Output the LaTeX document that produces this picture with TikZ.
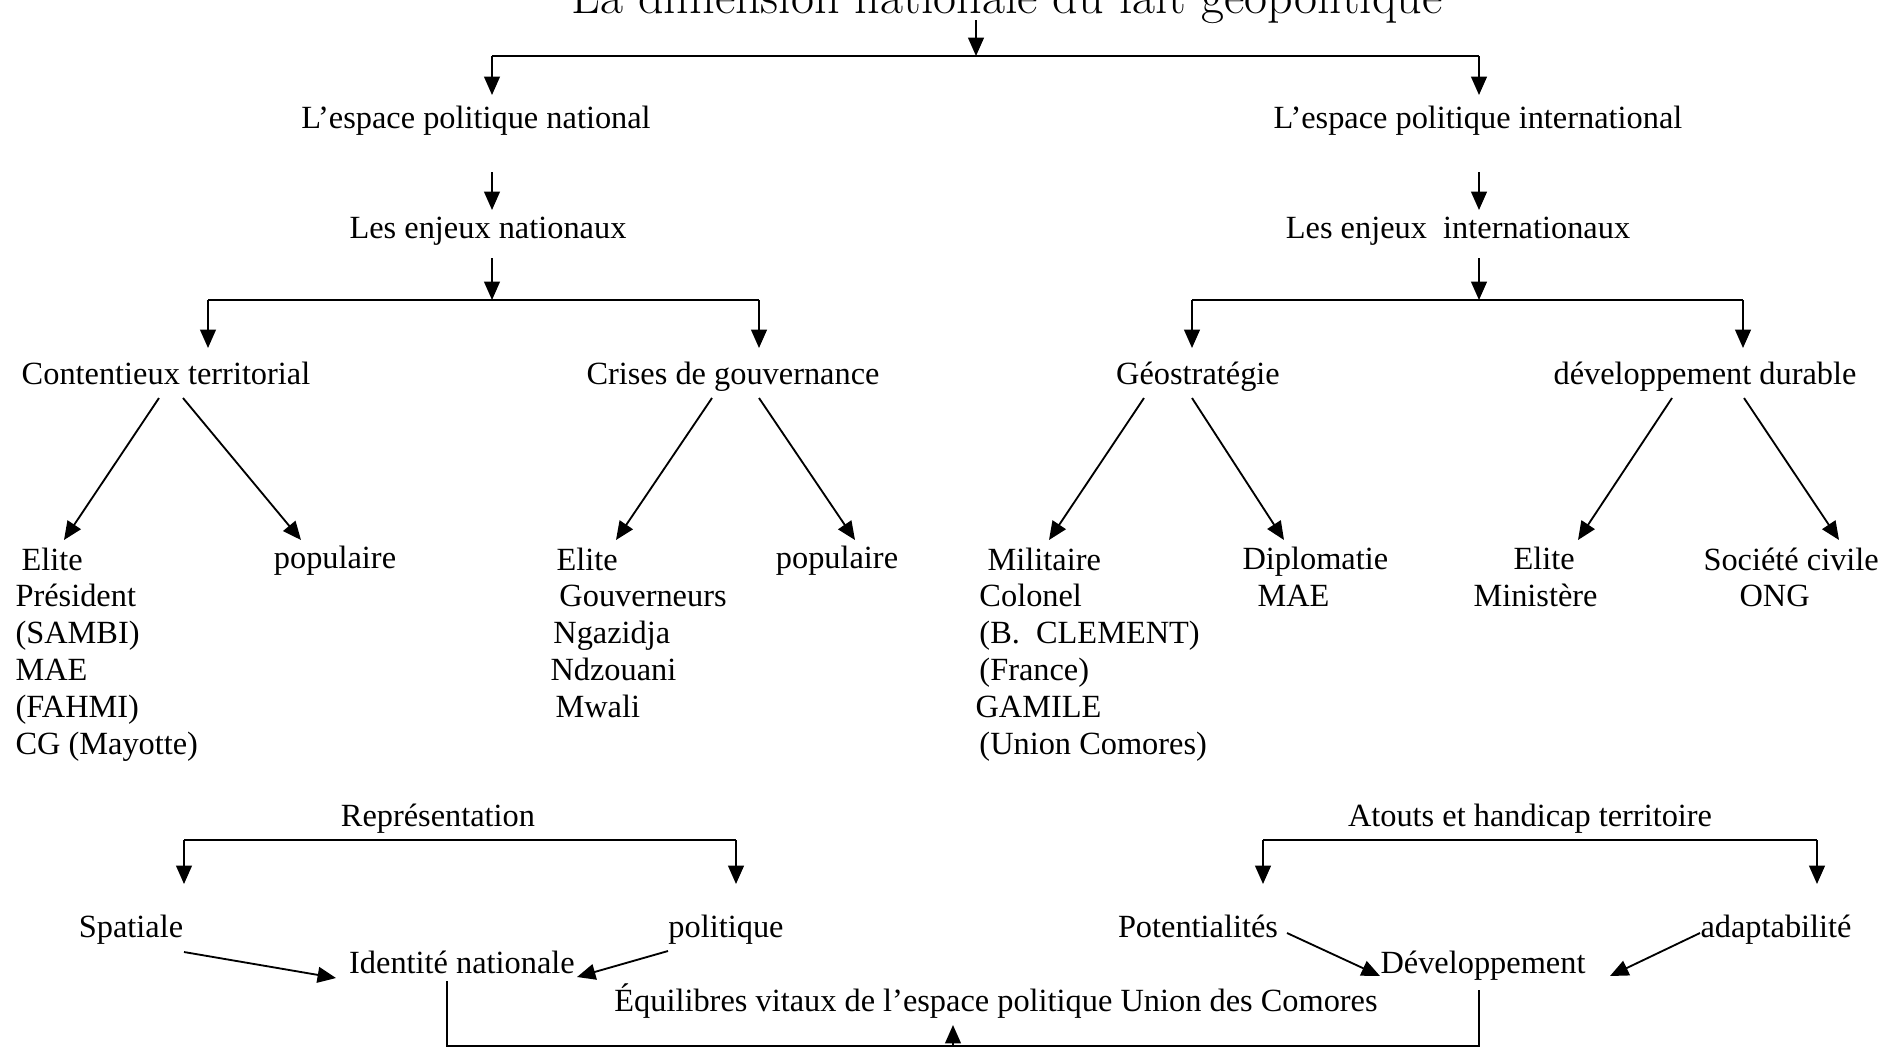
\documentclass[tikz,border=0pt]{standalone}
\usepackage{fontspec}
\newfontfamily\tnr{Liberation Serif}
\usetikzlibrary{arrows.meta}
\begin{document}
\begin{tikzpicture}[x=0.38pt,y=-0.38pt,
  txt/.style={font=\tnr\fontsize{12.3}{14}\selectfont, inner sep=0pt},
  one/.style={txt, text height=8.4pt, text depth=2.6pt},
  blk/.style={txt, align=left, anchor=north west},
  arr/.style={line width=0.7pt, -{Triangle[length=7pt,width=6pt]}},
  ln/.style={line width=0.6pt},
  thinln/.style={line width=0.45pt}]
\useasboundingbox (0,0) rectangle (1895,1048);
\clip (0,0) rectangle (1895,1048);
% title
\node[font=\fontsize{19}{22}\selectfont, inner sep=0pt, anchor=base] (title) at (1007,13) {La dimension nationale du fait géopolitique};
% level 1
\node[one] (espN) at (476,121) {L’espace politique national};
\node[one] (espI) at (1478,121) {L’espace politique international};
\node[one] (enjN) at (488,231) {Les enjeux nationaux};
\node[one] (enjI) at (1458,231) {Les enjeux~ internationaux};
% level 3
\node[one] (cont) at (166,377) {Contentieux territorial};
\node[one] (crise) at (733,377) {Crises de gouvernance};
\node[one] (geo) at (1198,377) {Géostratégie};
\node[one] (dev) at (1705,377) {développement durable};
% level 4
\node[blk] (elA) at (15,547) {\hspace*{2.3pt}Elite\\Président\\(SAMBI)\\MAE\\(FAHMI)\\CG (Mayotte)};
\node[one] (popA) at (335,561) {populaire};
\node[blk] (elB) at (550,547) {\hspace*{2.3pt}Elite\\\hspace*{3.4pt}Gouverneurs\\\hspace*{1.1pt}Ngazidja\\Ndzouani\\\hspace*{1.9pt}Mwali};
\node[one] (popB) at (837,561) {populaire};
\node[blk] (mil) at (975,547) {\hspace*{4.6pt}Militaire\\\hspace*{1.5pt}Colonel\\\hspace*{1.5pt}(B.~ CLEMENT)\\\hspace*{1.5pt}(France)\\GAMILE\\\hspace*{1.5pt}(Union Comores)};
\node[blk] (dip) at (1242,547) {Diplomatie\\\hspace*{5.7pt}MAE};
\node[blk] (elC) at (1473,547) {\hspace*{15.2pt}Elite\\Ministère};
\node[blk] (soc) at (1703,547) {Société civile\\\hspace*{13.7pt}ONG};
% bottom
\node[one] (repr) at (438,819) {Représentation};
\node[one] (atou) at (1530,819) {Atouts et handicap territoire};
\node[one] (spat) at (131,930) {Spatiale};
\node[one] (poli) at (726,930) {politique};
\node[one] (iden) at (462,966) {Identité nationale};
\node[one] (pote) at (1198,930) {Potentialités};
\node[one] (adap) at (1776,930) {adaptabilité};
\node[one] (devl) at (1483,966) {Développement};
\node[one] (equi) at (996,1004) {Équilibres vitaux de l’espace politique Union des Comores};
% coordinates
\coordinate (t0) at (976,20);
\coordinate (t1) at (976,56);
\coordinate (hL) at (492,56);
\coordinate (hR) at (1479,56);
\coordinate (eNt) at (492,95);
\coordinate (eIt) at (1479,95);
\coordinate (aN0) at (492,172);
\coordinate (aN1) at (492,210);
\coordinate (aI0) at (1479,172);
\coordinate (aI1) at (1479,210);
\coordinate (bN0) at (492,258);
\coordinate (bN1) at (492,300);
\coordinate (bI0) at (1479,258);
\coordinate (bI1) at (1479,300);
\coordinate (hN1) at (208,300);
\coordinate (hN2) at (759,300);
\coordinate (hI1) at (1192,300);
\coordinate (hI2) at (1743,300);
\coordinate (cN1) at (208,348);
\coordinate (cN2) at (759,348);
\coordinate (cI1) at (1192,348);
\coordinate (cI2) at (1743,348);
% top tree
\draw[arr] (t0) -- (t1);
\draw[ln] (hL) -- (hR);
\draw[arr] (hL) -- (eNt);
\draw[arr] (hR) -- (eIt);
\draw[arr] (aN0) -- (aN1);
\draw[arr] (aI0) -- (aI1);
\draw[arr] (bN0) -- (bN1);
\draw[arr] (bI0) -- (bI1);
\draw[ln] (hN1) -- (hN2);
\draw[ln] (hI1) -- (hI2);
\draw[arr] (hN1) -- (cN1);
\draw[arr] (hN2) -- (cN2);
\draw[arr] (hI1) -- (cI1);
\draw[arr] (hI2) -- (cI2);
% diagonals
\coordinate (d1a) at (159,398); \coordinate (d1b) at (64,540);
\coordinate (d2a) at (183,398); \coordinate (d2b) at (301,540);
\coordinate (d3a) at (712,398); \coordinate (d3b) at (616,540);
\coordinate (d4a) at (759,398); \coordinate (d4b) at (855,540);
\coordinate (d5a) at (1144,398); \coordinate (d5b) at (1049,540);
\coordinate (d6a) at (1192,398); \coordinate (d6b) at (1284,540);
\coordinate (d7a) at (1672,398); \coordinate (d7b) at (1578,540);
\coordinate (d8a) at (1744,398); \coordinate (d8b) at (1839,540);
\draw[arr] (d1a) -- (d1b);
\draw[arr] (d2a) -- (d2b);
\draw[arr] (d3a) -- (d3b);
\draw[arr] (d4a) -- (d4b);
\draw[arr] (d5a) -- (d5b);
\draw[arr] (d6a) -- (d6b);
\draw[arr] (d7a) -- (d7b);
\draw[arr] (d8a) -- (d8b);
% bottom trees
\coordinate (rL) at (184,840); \coordinate (rR) at (736,840);
\coordinate (rLt) at (184,884); \coordinate (rRt) at (736,884);
\coordinate (aL) at (1263,840); \coordinate (aR) at (1817,840);
\coordinate (aLt) at (1263,884); \coordinate (aRt) at (1817,884);
\draw[ln] (rL) -- (rR);
\draw[arr] (rL) -- (rLt);
\draw[arr] (rR) -- (rRt);
\draw[ln] (aL) -- (aR);
\draw[arr] (aL) -- (aLt);
\draw[arr] (aR) -- (aRt);
% converging arrows
\coordinate (s0) at (184,952); \coordinate (s1) at (336,978);
\coordinate (p0) at (668,951); \coordinate (p1) at (577,977);
\coordinate (q0) at (1287,933); \coordinate (q1) at (1380,976);
\coordinate (r0) at (1700,933); \coordinate (r1) at (1610,976);
\draw[arr] (s0) -- (s1);
\draw[arr] (p0) -- (p1);
\draw[arr] (q0) -- (q1);
\draw[arr] (r0) -- (r1);
% bottom loop
\coordinate (iB) at (447,981);
\coordinate (iC) at (447,1046);
\coordinate (dC) at (1479,1046);
\coordinate (dB) at (1479,990);
\coordinate (u0) at (953,1046);
\coordinate (u1) at (953,1025);
\draw[thinln] (iB) -- (iC) -- (dC) -- (dB);
\draw[arr] (u0) -- (u1);
\end{tikzpicture}
\end{document}
